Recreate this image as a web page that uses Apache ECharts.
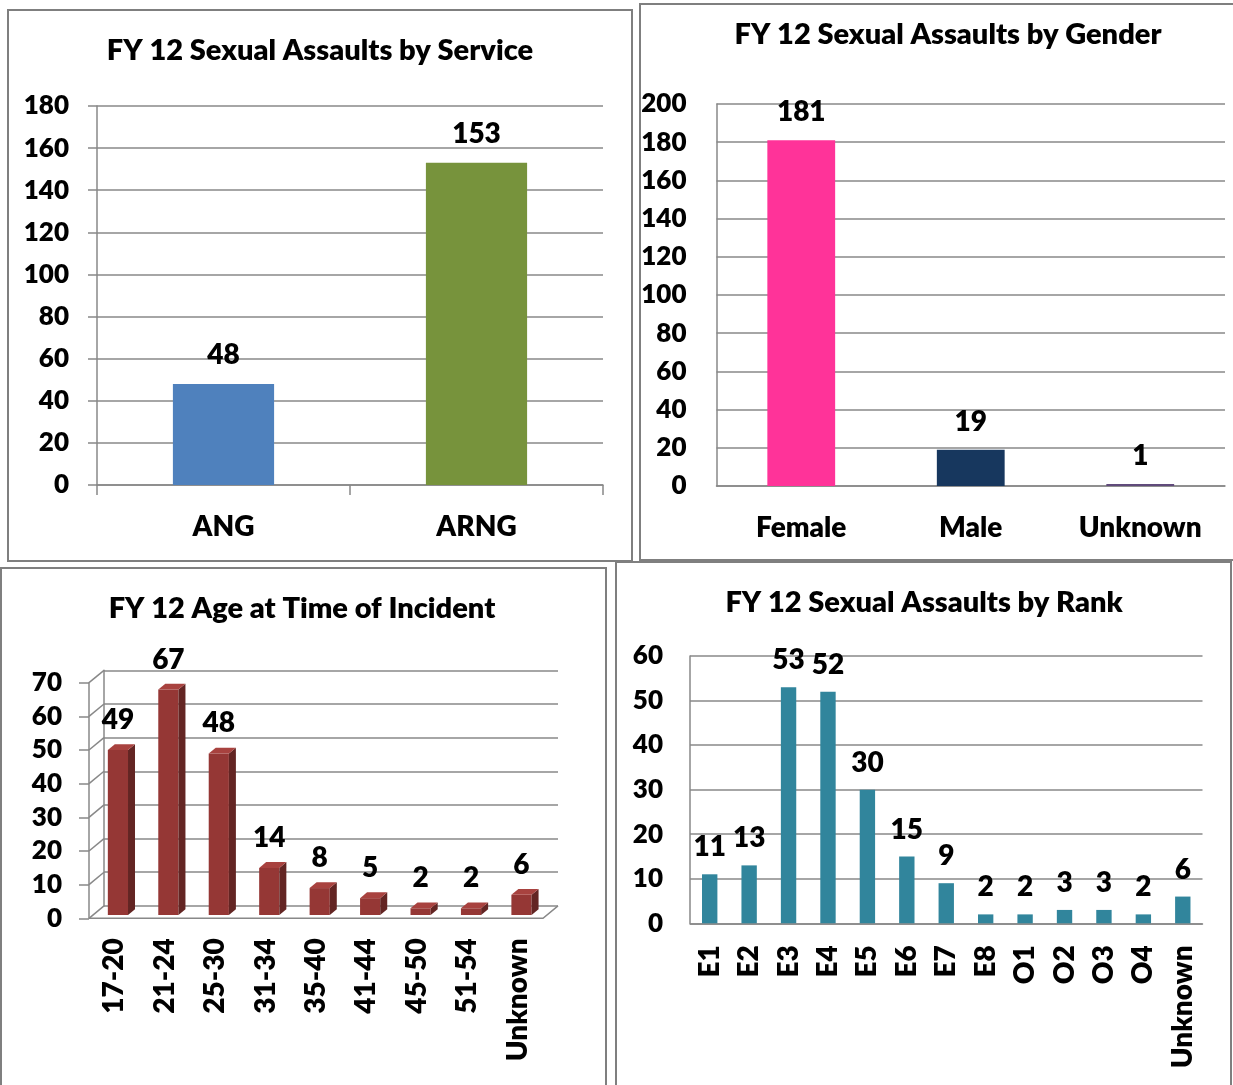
<!DOCTYPE html>
<html>
<head>
<meta charset="utf-8">
<script src="https://cdn.jsdelivr.net/npm/echarts@6/dist/echarts.min.js"></script>
<style>
html, body { margin: 0; padding: 0; background: #fff; }
#chart { width: 1233px; height: 1085px; }
</style>
</head>
<body>
<div id="chart"></div>
<script>
var serviceCats = ['ANG', 'ARNG'];
var serviceVals = [48, 153];
var genderCats = ['Female', 'Male', 'Unknown'];
var genderVals = [181, 19, 1];
var ageCats = ['17-20', '21-24', '25-30', '31-34', '35-40', '41-44', '45-50', '51-54', 'Unknown'];
var ageVals = [49, 67, 48, 14, 8, 5, 2, 2, 6];
var ageTicks = [0, 10, 20, 30, 40, 50, 60, 70];
var rankCats = ['E1', 'E2', 'E3', 'E4', 'E5', 'E6', 'E7', 'E8', 'O1', 'O2', 'O3', 'O4', 'Unknown'];
var rankVals = [11, 13, 53, 52, 30, 15, 9, 2, 2, 3, 3, 2, 6];

var serviceColors = ['#4F81BD', '#77933C'];
var genderColors = ['#FF3399', '#17375E', '#604A7B'];

var FONT = 'Lato';
var WEIGHT = 800;
var GRAY = '#888888';
var DX = 15, DY = 12.4; // depth of the 3d wall in chart 3

var chart = echarts.init(document.getElementById('chart'));

function txt(size) {
    return { fontFamily: FONT, fontWeight: WEIGHT, fontSize: size, color: '#000' };
}

function valueAxis(grid, max, step, opts) {
    var a = {
        type: 'value', gridIndex: grid, min: 0, max: max, interval: step,
        axisLine: { show: true, lineStyle: { color: GRAY, width: 1.5 } },
        axisTick: { show: false },
        splitLine: { show: true, lineStyle: { color: GRAY, width: 1.5 } },
        axisLabel: Object.assign(txt(26), { margin: 28 })
    };
    return Object.assign(a, opts || {});
}

function catAxis(grid, cats, opts) {
    var a = {
        type: 'category', gridIndex: grid, data: cats,
        axisLine: { show: true, lineStyle: { color: GRAY, width: 1.5 } },
        axisTick: { show: false },
        axisLabel: Object.assign(txt(28), { margin: 28, interval: 0 })
    };
    return Object.assign(a, opts || {});
}

// 3d bars for the age chart
function renderAgeBar(params, api) {
    var i = api.value(0), v = api.value(1);
    var top = api.coord([i, v]);
    var base = api.coord([i, 0]);
    var w = api.size([1, 0])[0] * 0.4;
    var sx = 3.7, sy = -3.3; // bars stand a bit back on the floor
    var bx = 7, by = 5.8;
    var x1 = top[0] - w / 2 + sx, x2 = top[0] + w / 2 + sx;
    var yt = top[1] + sy, yb = base[1] + sy;
    return {
        type: 'group',
        children: [
            { type: 'polygon', shape: { points: [[x1, yt], [x2, yt], [x2, yb], [x1, yb]] }, style: { fill: '#953735' } },
            { type: 'polygon', shape: { points: [[x2, yt], [x2 + bx, yt - by], [x2 + bx, yb - by], [x2, yb]] }, style: { fill: '#632523' } },
            { type: 'polygon', shape: { points: [[x1, yt], [x1 + bx, yt - by], [x2 + bx, yt - by], [x2, yt]] }, style: { fill: '#A8423F' } },
            { type: 'text', style: { text: String(v), x: (x1 + x2) / 2, y: yt - 30, align: 'center', verticalAlign: 'middle', font: WEIGHT + ' 28px ' + FONT, fill: '#000' } }
        ]
    };
}

// side wall and floor edges
function renderWall(params, api) {
    var t = api.value(1);
    var p = api.coord([0, t]);
    var x0 = params.coordSys.x;
    var kids = [{ type: 'line', shape: { x1: x0, y1: p[1], x2: x0 + DX, y2: p[1] - DY }, style: { stroke: GRAY, lineWidth: 1.5 } }];
    if (t === 0) {
        var xr = x0 + params.coordSys.width;
        kids.push({ type: 'polyline', shape: { points: [[x0, p[1]], [xr, p[1]], [xr + DX, p[1] - DY]] }, style: { stroke: GRAY, lineWidth: 1.5, fill: null } });
    }
    return { type: 'group', children: kids };
}

function panel(x, y, w, h) {
    return { type: 'rect', shape: { x: x, y: y, width: w, height: h }, style: { fill: null, stroke: '#7F7F7F', lineWidth: 2 }, z: 100 };
}

function heading(text, x, y) {
    return { type: 'text', x: x, y: y, style: { text: text, align: 'center', verticalAlign: 'middle', font: WEIGHT + ' 29px ' + FONT, fill: '#000' } };
}

var option = {
    animation: false,
    graphic: [
        panel(8, 10, 624, 551),
        panel(640, 4, 610, 556),
        panel(1, 568, 605, 540),
        panel(616, 562, 615, 540),
        heading('FY 12 Sexual Assaults by Service', 320, 51),
        heading('FY 12 Sexual Assaults by Gender', 948, 35),
        heading('FY 12 Age at Time of Incident', 302, 609),
        heading('FY 12 Sexual Assaults by Rank', 924, 603)
    ],
    grid: [
        { left: 97, top: 106, width: 506, height: 379 },
        { left: 716.5, top: 104, width: 508.5, height: 382 },
        { left: 89, top: 682.7, width: 454, height: 235.6 },
        { left: 89 + DX, top: 682.7 - DY, width: 454, height: 235.6 },
        { left: 690, top: 656, width: 512.5, height: 267.3 }
    ],
    xAxis: [
        catAxis(0, serviceCats, { axisTick: { show: true, length: 10, lineStyle: { color: GRAY, width: 1.5 } } }),
        catAxis(1, genderCats),
        catAxis(2, ageCats, { axisLine: { show: false }, axisLabel: Object.assign(txt(28), { margin: 20, interval: 0, rotate: 90 }) }),
        catAxis(3, ageCats, { show: false }),
        catAxis(4, rankCats, { axisLabel: Object.assign(txt(28), { margin: 22, interval: 0, rotate: 90 }) })
    ],
    yAxis: [
        valueAxis(0, 180, 20, { axisTick: { show: true, length: 9, lineStyle: { color: GRAY, width: 1.5 } } }),
        valueAxis(1, 200, 20, { axisLabel: Object.assign(txt(26), { margin: 30 }) }),
        valueAxis(2, 70, 10, { splitLine: { show: false }, axisTick: { show: true, length: 10, lineStyle: { color: GRAY, width: 1.5 } }, axisLabel: Object.assign(txt(26), { margin: 27 }) }),
        valueAxis(3, 70, 10, { axisLabel: { show: false } }),
        valueAxis(4, 60, 10, { axisLabel: Object.assign(txt(26), { margin: 27 }) })
    ],
    series: [
        {
            type: 'bar', xAxisIndex: 0, yAxisIndex: 0, barWidth: '40%',
            data: serviceVals.map(function (v, i) { return { value: v, itemStyle: { color: serviceColors[i] } }; }),
            label: Object.assign(txt(28), { show: true, position: 'top', distance: 15 })
        },
        {
            type: 'bar', xAxisIndex: 1, yAxisIndex: 1, barWidth: '40%',
            data: genderVals.map(function (v, i) { return { value: v, itemStyle: { color: genderColors[i] } }; }),
            label: Object.assign(txt(28), { show: true, position: 'top', distance: 14 })
        },
        {
            type: 'custom', xAxisIndex: 2, yAxisIndex: 2, clip: false, z: 1,
            data: ageTicks.map(function (t) { return [0, t]; }),
            renderItem: renderWall
        },
        {
            type: 'custom', xAxisIndex: 2, yAxisIndex: 2, clip: false, z: 3,
            data: ageVals.map(function (v, i) { return [i, v]; }),
            renderItem: renderAgeBar
        },
        {
            type: 'bar', xAxisIndex: 4, yAxisIndex: 4, barWidth: '39%',
            itemStyle: { color: '#31859C' },
            data: rankVals,
            label: Object.assign(txt(28), { show: true, position: 'top', distance: 13 })
        }
    ]
};

chart.setOption(option);
</script>
</body>
</html>
